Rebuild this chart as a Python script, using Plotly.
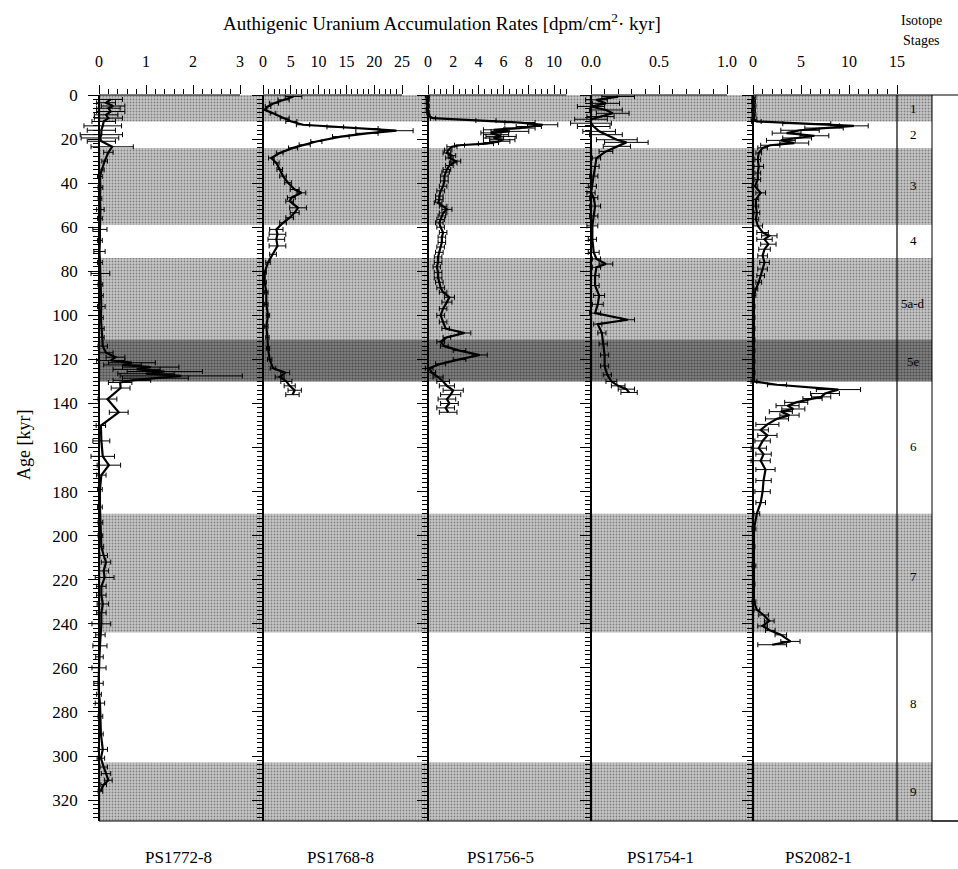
import numpy as np
import plotly.graph_objects as go

# ---------------- data ----------------
core_names = ["PS1772-8", "PS1768-8", "PS1756-5", "PS1754-1", "PS2082-1"]

ps1772_age = [2, 3.5, 5, 6, 7.5, 9, 10.5, 12, 14, 16, 18, 19.5, 21, 23.5, 26, 30, 34, 37, 42, 47, 52, 56,
              61, 66, 71, 76, 81, 86, 91, 96, 101, 106, 110, 114, 117, 119, 120.5, 121.5, 122.5, 123.5,
              124.5, 125.5, 126.5, 127.5, 128.5, 129.5, 130.5, 133, 138, 144, 150, 157, 164, 168, 172.5,
              179, 187, 194, 200, 205, 209, 212, 216, 219, 223, 227, 231, 235, 240, 245, 250, 255, 260,
              267, 272, 276, 282, 290, 297, 301, 305, 308, 311, 313, 316]
ps1772_val = [0.25, 0.15, 0.3, 0.2, 0.25, 0.15, 0.2, 0.1, 0.08, 0.05, 0.05, 0.02, 0.05, 0.28, 0.2, 0.12,
              0.06, 0.02, 0.03, 0.02, 0.03, 0.02, 0.02, 0.02, 0.01, 0.02, 0.03, 0.03, 0.04, 0.05, 0.04,
              0.05, 0.06, 0.08, 0.15, 0.35, 0.25, 0.7, 0.5, 1.1, 0.8, 1.4, 1.0, 1.75, 1.2, 0.7, 0.45,
              0.46, 0.18, 0.42, 0.04, 0.05, 0.08, 0.21, 0.05, 0.02, 0.02, 0.03, 0.03, 0.05, 0.1, 0.15,
              0.1, 0.12, 0.05, 0.05, 0.08, 0.05, 0.05, 0.03, 0.02, 0.01, 0.0, -0.01, 0.0, 0.02, 0.03,
              0.04, 0.08, 0.04, 0.1, 0.15, 0.2, 0.1, 0.03]
ps1772_err = [0.25, 0.2, 0.25, 0.25, 0.3, 0.25, 0.3, 0.25, 0.4, 0.3, 0.45, 0.4, 0.3, 0.45, 0.1, 0.06,
              0.05, 0.05, 0.05, 0.04, 0.08, 0.05, 0.15, 0.05, 0.12, 0.05, 0.2, 0.05, 0.05, 0.08, 0.05,
              0.06, 0.05, 0.1, 0.15, 0.2, 0.3, 0.5, 0.4, 0.6, 0.5, 0.8, 0.6, 1.3, 0.7, 0.4, 0.25,
              0.2, 0.2, 0.2, 0.1, 0.18, 0.25, 0.25, 0.1, 0.05, 0.05, 0.05, 0.05, 0.05, 0.08, 0.1,
              0.1, 0.2, 0.1, 0.1, 0.12, 0.1, 0.2, 0.1, 0.15, 0.08, 0.15, 0.1, 0.05, 0.1, 0.05,
              0.05, 0.1, 0.08, 0.08, 0.1, 0.08, 0.06, 0.05]

ps1768_age = [0.7, 2.2, 3.7, 5.2, 6.7, 8.3, 10.5, 12, 13.5, 14.5, 15.2, 16.2, 17.4, 18.9, 21.1, 22.6, 24,
              26.3, 28.6, 30.8, 33.8, 36.8, 39.8, 42.9, 44.4, 46.6, 48.2, 51.2, 53.4, 55.7, 58, 61, 63.2,
              65.5, 68.5, 72.3, 76, 80.5, 85, 89.5, 95, 100, 105, 110, 115, 120, 124, 126, 128, 130,
              132, 134, 136]
ps1768_val = [5.5, 3.7, 2.0, 0.9, 0.3, 1.8, 3.9, 5.1, 7.2, 13, 18.7, 24, 18.7, 14, 9.6, 7.5, 5.4, 3.0,
              1.5, 2.4, 3.0, 3.6, 4.5, 5.7, 6.9, 5.1, 4.8, 6.3, 5.7, 4.8, 3.6, 2.4, 2.6, 2.4, 2.6, 1.8,
              0.9, 0.3, 0.3, 0.6, 0.6, 0.9, 0.6, 0.8, 0.9, 1.2, 1.8, 4.0, 3.0, 4.2, 4.8, 5.7, 5.3]
ps1768_err = [1.5, 1.0, 0.8, 0.5, 0.4, 0.5, 0.8, 1.0, 1.2, 1.5, 2.0, 3.0, 2.0, 1.5, 1.0, 1.0, 0.8, 0.6,
              0.5, 0.5, 0.5, 0.6, 0.6, 0.8, 0.8, 0.7, 0.7, 1.5, 0.8, 0.7, 0.6, 1.2, 1.5, 1.5, 1.5, 0.6,
              0.4, 0.3, 0.3, 0.3, 0.3, 0.3, 0.3, 0.3, 0.3, 0.4, 0.5, 0.8, 0.8, 1.0, 1.0, 1.2, 1.2]

ps1756_age = [0.5, 2, 3.5, 5, 6.5, 8, 9.5, 10.5, 11.6, 12.5, 13.5, 14.3, 15, 15.8, 16.5, 17.2, 18, 18.8,
              19.5, 20.3, 21, 21.6, 22.1, 22.8, 23.5, 25, 26.3, 27.5, 28.6, 30, 30.8, 32, 33.8, 35,
              36.8, 39, 41.4, 43.5, 45.9, 47.5, 48.9, 50.5, 51.9, 53.5, 54.9, 56.5, 58, 60, 62.4, 64.5,
              66.9, 69, 71.4, 73.5, 76, 78, 80.5, 83, 85, 87.5, 89.5, 91.8, 94, 97, 100, 103, 106, 108,
              110, 112, 114, 116, 118, 120, 122, 124, 126, 128, 130, 132, 134, 136, 138, 140, 142, 144]
ps1756_val = [-0.05, 0.0, -0.05, 0.0, -0.05, 0.0, 0.05, 0.4, 4.6, 7.3, 9.1, 8.0, 7.3, 5.2, 6.5, 5.0, 5.4,
              5.8, 5.2, 5.9, 5.7, 5.0, 4.6, 2.5, 1.9, 1.6, 1.5, 1.9, 1.7, 2.2, 2.0, 1.7, 1.5, 1.4, 1.3,
              1.3, 1.2, 1.0, 0.9, 0.9, 0.8, 1.2, 1.5, 1.2, 1.1, 1.0, 0.9, 1.0, 1.2, 1.1, 1.1, 1.0, 0.9,
              0.8, 0.8, 0.7, 0.8, 0.8, 0.9, 1.0, 1.2, 1.7, 1.5, 1.2, 1.0, 1.2, 1.4, 2.9, 1.5, 1.0, 1.3,
              2.5, 4.1, 2.5, 1.0, 0.1, 0.3, 0.8, 1.2, 1.5, 2.0, 1.8, 1.5, 1.7, 1.4, 1.6]
ps1756_err = [0.15, 0.1, 0.1, 0.1, 0.1, 0.1, 0.1, 0.2, 0.8, 1.2, 1.2, 1.0, 1.2, 0.8, 1.5, 0.8, 1.0, 1.2,
              0.8, 1.0, 0.8, 0.6, 0.6, 0.4, 0.4, 0.3, 0.3, 0.3, 0.3, 0.4, 0.3, 0.3, 0.3, 0.3, 0.3, 0.3,
              0.3, 0.3, 0.3, 0.3, 0.3, 0.3, 0.4, 0.3, 0.3, 0.3, 0.3, 0.3, 0.3, 0.3, 0.3, 0.3, 0.3, 0.3,
              0.3, 0.3, 0.3, 0.3, 0.3, 0.3, 0.3, 0.4, 0.4, 0.3, 0.3, 0.3, 0.3, 0.5, 0.3, 0.3, 0.3, 0.5,
              0.6, 0.5, 0.4, 0.3, 0.3, 0.4, 0.5, 0.6, 0.8, 0.8, 0.7, 0.7, 0.7, 0.7]

ps1754_age = [0.7, 2.2, 3.8, 5.2, 6.8, 8.3, 9.8, 11, 12.8, 14.3, 16.5, 18, 20.3, 21.5, 23.3, 25.6, 28.6,
              32.4, 36.8, 41.4, 44.4, 46.6, 50.4, 54.9, 59.4, 65.5, 71.4, 74.4, 76.7, 78.2, 82, 86.5,
              91, 95, 99, 102, 104, 108, 113, 118, 123, 127, 130, 132, 133.5, 135]
ps1754_val = [0.2, 0.04, 0.11, 0.0, 0.11, 0.16, 0.07, 0.0, 0.0, 0.02, 0.06, 0.11, 0.19, 0.26, 0.19, 0.11,
              0.04, 0.03, 0.02, 0.01, 0.0, 0.02, 0.03, 0.02, 0.01, 0.01, 0.02, 0.04, 0.11, 0.04, 0.03,
              0.03, 0.06, 0.05, 0.03, 0.27, 0.05, 0.08, 0.09, 0.1, 0.1, 0.12, 0.15, 0.2, 0.26, 0.28]
ps1754_err = [0.12, 0.08, 0.1, 0.1, 0.12, 0.12, 0.1, 0.12, 0.15, 0.12, 0.12, 0.12, 0.15, 0.16, 0.1, 0.05,
              0.03, 0.03, 0.03, 0.03, 0.03, 0.03, 0.04, 0.03, 0.04, 0.03, 0.04, 0.03, 0.05, 0.03, 0.03,
              0.03, 0.04, 0.04, 0.04, 0.05, 0.03, 0.03, 0.03, 0.03, 0.03, 0.03, 0.04, 0.05, 0.06, 0.06]

ps2082_age = [1, 3, 5, 7, 9, 11, 12, 13, 14, 15, 16, 17.3, 18.5, 19.5, 20.6, 21.8, 22.8, 24, 26.3, 29.3,
              32.4, 35.4, 38.4, 41.4, 44.4, 47.4, 50.4, 53.4, 56.4, 59.4, 62.4, 63.9, 65.5, 67.7, 70, 73,
              76, 79, 82, 85, 88, 91, 96, 101, 106, 111, 116, 121, 126, 130, 131.5, 133.7, 135.5, 137,
              137.8, 139.5, 141, 142.5, 143.7, 145.3, 147, 149.5, 152, 154.5, 157, 160.3, 163, 166, 170,
              175, 180, 185, 190, 197, 205, 213.7, 222, 230, 233.7, 236, 238.7, 241, 243, 245, 248, 249.5]
ps2082_val = [0.1, 0.05, 0.1, 0.05, 0.1, 0.1, 0.35, 5.6, 10.5, 7.4, 4.9, 3.5, 6.4, 4.6, 2.9, 4.3, 1.8,
              1.0, 0.6, 0.5, 0.6, 0.5, 0.5, 0.2, 0.8, 0.3, 0.3, 0.4, 0.3, 0.5, 1.0, 1.7, 1.2, 1.6, 1.2,
              1.0, 1.2, 1.0, 0.8, 0.6, 0.3, 0.1, 0.1, 0.1, 0.1, 0.1, 0.1, 0.1, 0.1, 0.1, 2.5, 8.9, 7.5,
              7.1, 6.2, 4.5, 3.6, 4.2, 2.9, 3.8, 2.5, 1.5, 0.8, 1.5, 1.0, 0.6, 1.1, 0.8, 1.3, 1.1, 1.0,
              0.8, 0.4, 0.1, 0.1, 0.1, 0.1, 0.1, 0.4, 1.1, 1.7, 1.0, 1.8, 2.9, 3.9, 2.0]
ps2082_err = [0.2, 0.2, 0.2, 0.2, 0.2, 0.3, 0.5, 2.5, 1.5, 2.0, 2.0, 1.5, 1.5, 1.5, 1.5, 1.5, 1.0, 0.5,
              0.3, 0.3, 0.5, 0.3, 0.3, 0.3, 0.5, 0.3, 0.3, 0.3, 0.3, 0.5, 0.6, 0.8, 0.8, 0.8, 0.6, 0.5,
              0.5, 0.5, 0.4, 0.3, 0.2, 0.2, 0.1, 0.1, 0.1, 0.1, 0.1, 0.1, 0.1, 0.3, 1.0, 2.3, 1.5, 1.0,
              1.0, 1.2, 1.2, 1.2, 1.2, 1.0, 1.2, 1.2, 0.8, 1.0, 0.8, 0.8, 0.8, 1.0, 1.0, 0.8, 0.8, 0.5,
              0.3, 0.2, 0.1, 0.2, 0.1, 0.2, 0.3, 0.5, 0.5, 0.5, 0.5, 0.6, 1.0, 1.5]

# isotope stages
light_band_start = [0, 24, 74, 190, 303]
light_band_end = [12, 59, 111, 244, 329.5]
dark_band_start = [111]
dark_band_end = [130]
stage_names = ["1", "2", "3", "4", "5a-d", "5e", "6", "7", "8", "9"]
stage_label_ages = [6, 18, 41, 66, 94.5, 121, 159.5, 218.5, 276, 316]

# top-axis tick labels
tick_vals = [[0, 1, 2, 3], [0, 5, 10, 15, 20, 25], [0, 2, 4, 6, 8, 10], [0, 0.5, 1.0], [0, 5, 10, 15]]
tick_text = [["0", "1", "2", "3"], ["0", "5", "10", "15", "20", "25"], ["0", "2", "4", "6", "8", "10"],
             ["0.0", "0.5", "1.0"], ["0", "5", "10", "15"]]
minor_step = [0.2, 1, 0.5, 0.1, 1]
minor_end = [3, 25, 11, 1.0, 15]

# ---------------- layout geometry (pixels) ----------------
W, H = 958, 869
TOP, BOT = 95, 821
AGE_MAX = 329.5
FONT = "Liberation Serif, Times New Roman, serif"

def px(x):
    return x / W

def py(y):
    return 1 - y / H

axis_px = [99, 263, 428, 591, 753]
right_px = [263, 428, 591, 753, 897]
scale = [47.0, 5.56, 12.6, 136.0, 9.6]
ext = [22, 22, 22, 22, 22]
name_x = [178, 340, 500, 660, 818]

ages = [ps1772_age, ps1768_age, ps1756_age, ps1754_age, ps2082_age]
vals = [ps1772_val, ps1768_val, ps1756_val, ps1754_val, ps2082_val]
errs = [ps1772_err, ps1768_err, ps1756_err, ps1754_err, ps2082_err]

fig = go.Figure()

# background stage bands (subplot x/y), stippled
fig.add_trace(go.Bar(
    x=[0.5] * len(light_band_start),
    y=[e - s for s, e in zip(light_band_start, light_band_end)],
    base=light_band_start, width=1,
    marker=dict(color="#c4c4c4", line=dict(width=0),
                pattern=dict(shape=".", fgcolor="#3a3a3a", bgcolor="#c6c6c6", size=3, solidity=0.3)),
    xaxis="x", yaxis="y", hoverinfo="skip", showlegend=False))
fig.add_trace(go.Bar(
    x=[0.5] * len(dark_band_start),
    y=[e - s for s, e in zip(dark_band_start, dark_band_end)],
    base=dark_band_start, width=1,
    marker=dict(color="#808080", line=dict(width=0),
                pattern=dict(shape=".", fgcolor="#1a1a1a", bgcolor="#7e7e7e", size=3, solidity=0.4)),
    xaxis="x", yaxis="y", hoverinfo="skip", showlegend=False))

layout = dict(
    width=W, height=H,
    margin=dict(l=0, r=0, t=0, b=0),
    paper_bgcolor="white", plot_bgcolor="rgba(0,0,0,0)",
    showlegend=False, barmode="overlay",
    font=dict(family=FONT, color="black"),
    xaxis=dict(domain=[px(99), px(932)], range=[0, 1], visible=False, fixedrange=True),
    yaxis=dict(domain=[py(BOT), py(TOP)], range=[AGE_MAX, 0], visible=False, fixedrange=True),
)

shapes = []
annotations = []

for i in range(5):
    k = i + 2
    xa, ya = f"xaxis{k}", f"yaxis{k}"
    L = axis_px[i] - ext[i]
    R = right_px[i]
    r0 = -ext[i] / scale[i]
    r1 = (R - axis_px[i]) / scale[i]
    minor_vals = [v for v in np.arange(0, minor_end[i] + 1e-9, minor_step[i])
                  if all(abs(v - t) > 1e-9 for t in tick_vals[i])]
    layout[xa] = dict(
        domain=[px(L), px(R)], range=[r0, r1], anchor=f"y{k}", side="top",
        showgrid=False, zeroline=False, showline=False,
        tickmode="array", tickvals=tick_vals[i], ticktext=tick_text[i],
        ticks="outside", ticklen=9, tickwidth=1, tickcolor="black",
        ticklabelstandoff=12,
        minor=dict(tickmode="array", tickvals=minor_vals, ticks="outside", ticklen=5,
                   tickwidth=1, tickcolor="black"),
        tickfont=dict(family=FONT, size=16, color="black"), automargin=False, fixedrange=True)
    layout[ya] = dict(
        domain=[py(BOT), py(TOP)], range=[AGE_MAX, 0], anchor="free", position=px(axis_px[i]),
        side="left", showgrid=False, zeroline=False, showline=True, linecolor="black", linewidth=1.5,
        tickmode="linear", tick0=0, dtick=20, ticks="outside", ticklen=10, tickwidth=1,
        tickcolor="black", showticklabels=(i == 0), ticklabelstandoff=7,
        minor=dict(dtick=2, tick0=0, ticks="outside", ticklen=5, tickwidth=1, tickcolor="black"),
        tickfont=dict(family=FONT, size=17, color="black"), automargin=False, fixedrange=True)

    fig.add_trace(go.Scatter(
        x=vals[i], y=ages[i], mode="lines",
        line=dict(color="black", width=2.2),
        error_x=dict(type="data", array=errs[i], color="black", thickness=1, width=2.5),
        xaxis=f"x{k}", yaxis=f"y{k}", hoverinfo="skip", showlegend=False))

    # top axis line across the tick range
    shapes.append(dict(type="line", xref=f"x{k}", yref="paper", x0=0, x1=max(tick_vals[i] + [minor_end[i]]),
                       y0=py(TOP), y1=py(TOP), line=dict(color="black", width=1)))
    # core name
    annotations.append(dict(text=core_names[i], x=px(name_x[i]), y=py(857), xref="paper", yref="paper",
                            showarrow=False, xanchor="center", yanchor="middle",
                            font=dict(family=FONT, size=17, color="black")))

# frame lines on the right
shapes.append(dict(type="line", xref="paper", yref="paper", x0=px(897), x1=px(897), y0=py(BOT), y1=py(TOP),
                   line=dict(color="black", width=1.2)))
shapes.append(dict(type="rect", xref="paper", yref="paper", x0=px(932), x1=1.003, y0=py(BOT), y1=py(TOP),
                   line=dict(color="black", width=1), fillcolor="white"))
shapes.append(dict(type="line", xref="paper", yref="paper", x0=px(897), x1=px(932), y0=py(TOP), y1=py(TOP),
                   line=dict(color="black", width=1)))
shapes.append(dict(type="line", xref="paper", yref="paper", x0=px(99), x1=1.0, y0=py(BOT), y1=py(BOT),
                   line=dict(color="black", width=1)))

# stage labels
for name, age in zip(stage_names, stage_label_ages):
    annotations.append(dict(text=name, x=px(913), y=age, xref="paper", yref="y", showarrow=False,
                            xanchor="center", yanchor="middle",
                            font=dict(family=FONT, size=13, color="black")))

annotations.append(dict(text="Isotope", x=px(921), y=py(20), xref="paper", yref="paper",
                        showarrow=False, xanchor="center", yanchor="middle",
                        font=dict(family=FONT, size=14, color="black")))
annotations.append(dict(text="Stages", x=px(921), y=py(41), xref="paper", yref="paper",
                        showarrow=False, xanchor="center", yanchor="middle",
                        font=dict(family=FONT, size=14, color="black")))
annotations.append(dict(text="Authigenic Uranium Accumulation Rates [dpm/cm<sup>2</sup>· kyr]",
                        x=px(442), y=py(22), xref="paper", yref="paper", showarrow=False,
                        xanchor="center", yanchor="middle",
                        font=dict(family=FONT, size=19, color="black")))
annotations.append(dict(text="Age [kyr]", x=px(24), y=py(445), xref="paper", yref="paper",
                        showarrow=False, textangle=-90, xanchor="center", yanchor="middle",
                        font=dict(family=FONT, size=18, color="black")))

layout["shapes"] = shapes
layout["annotations"] = annotations
fig.update_layout(**layout)

fig.write_html("out.html")
